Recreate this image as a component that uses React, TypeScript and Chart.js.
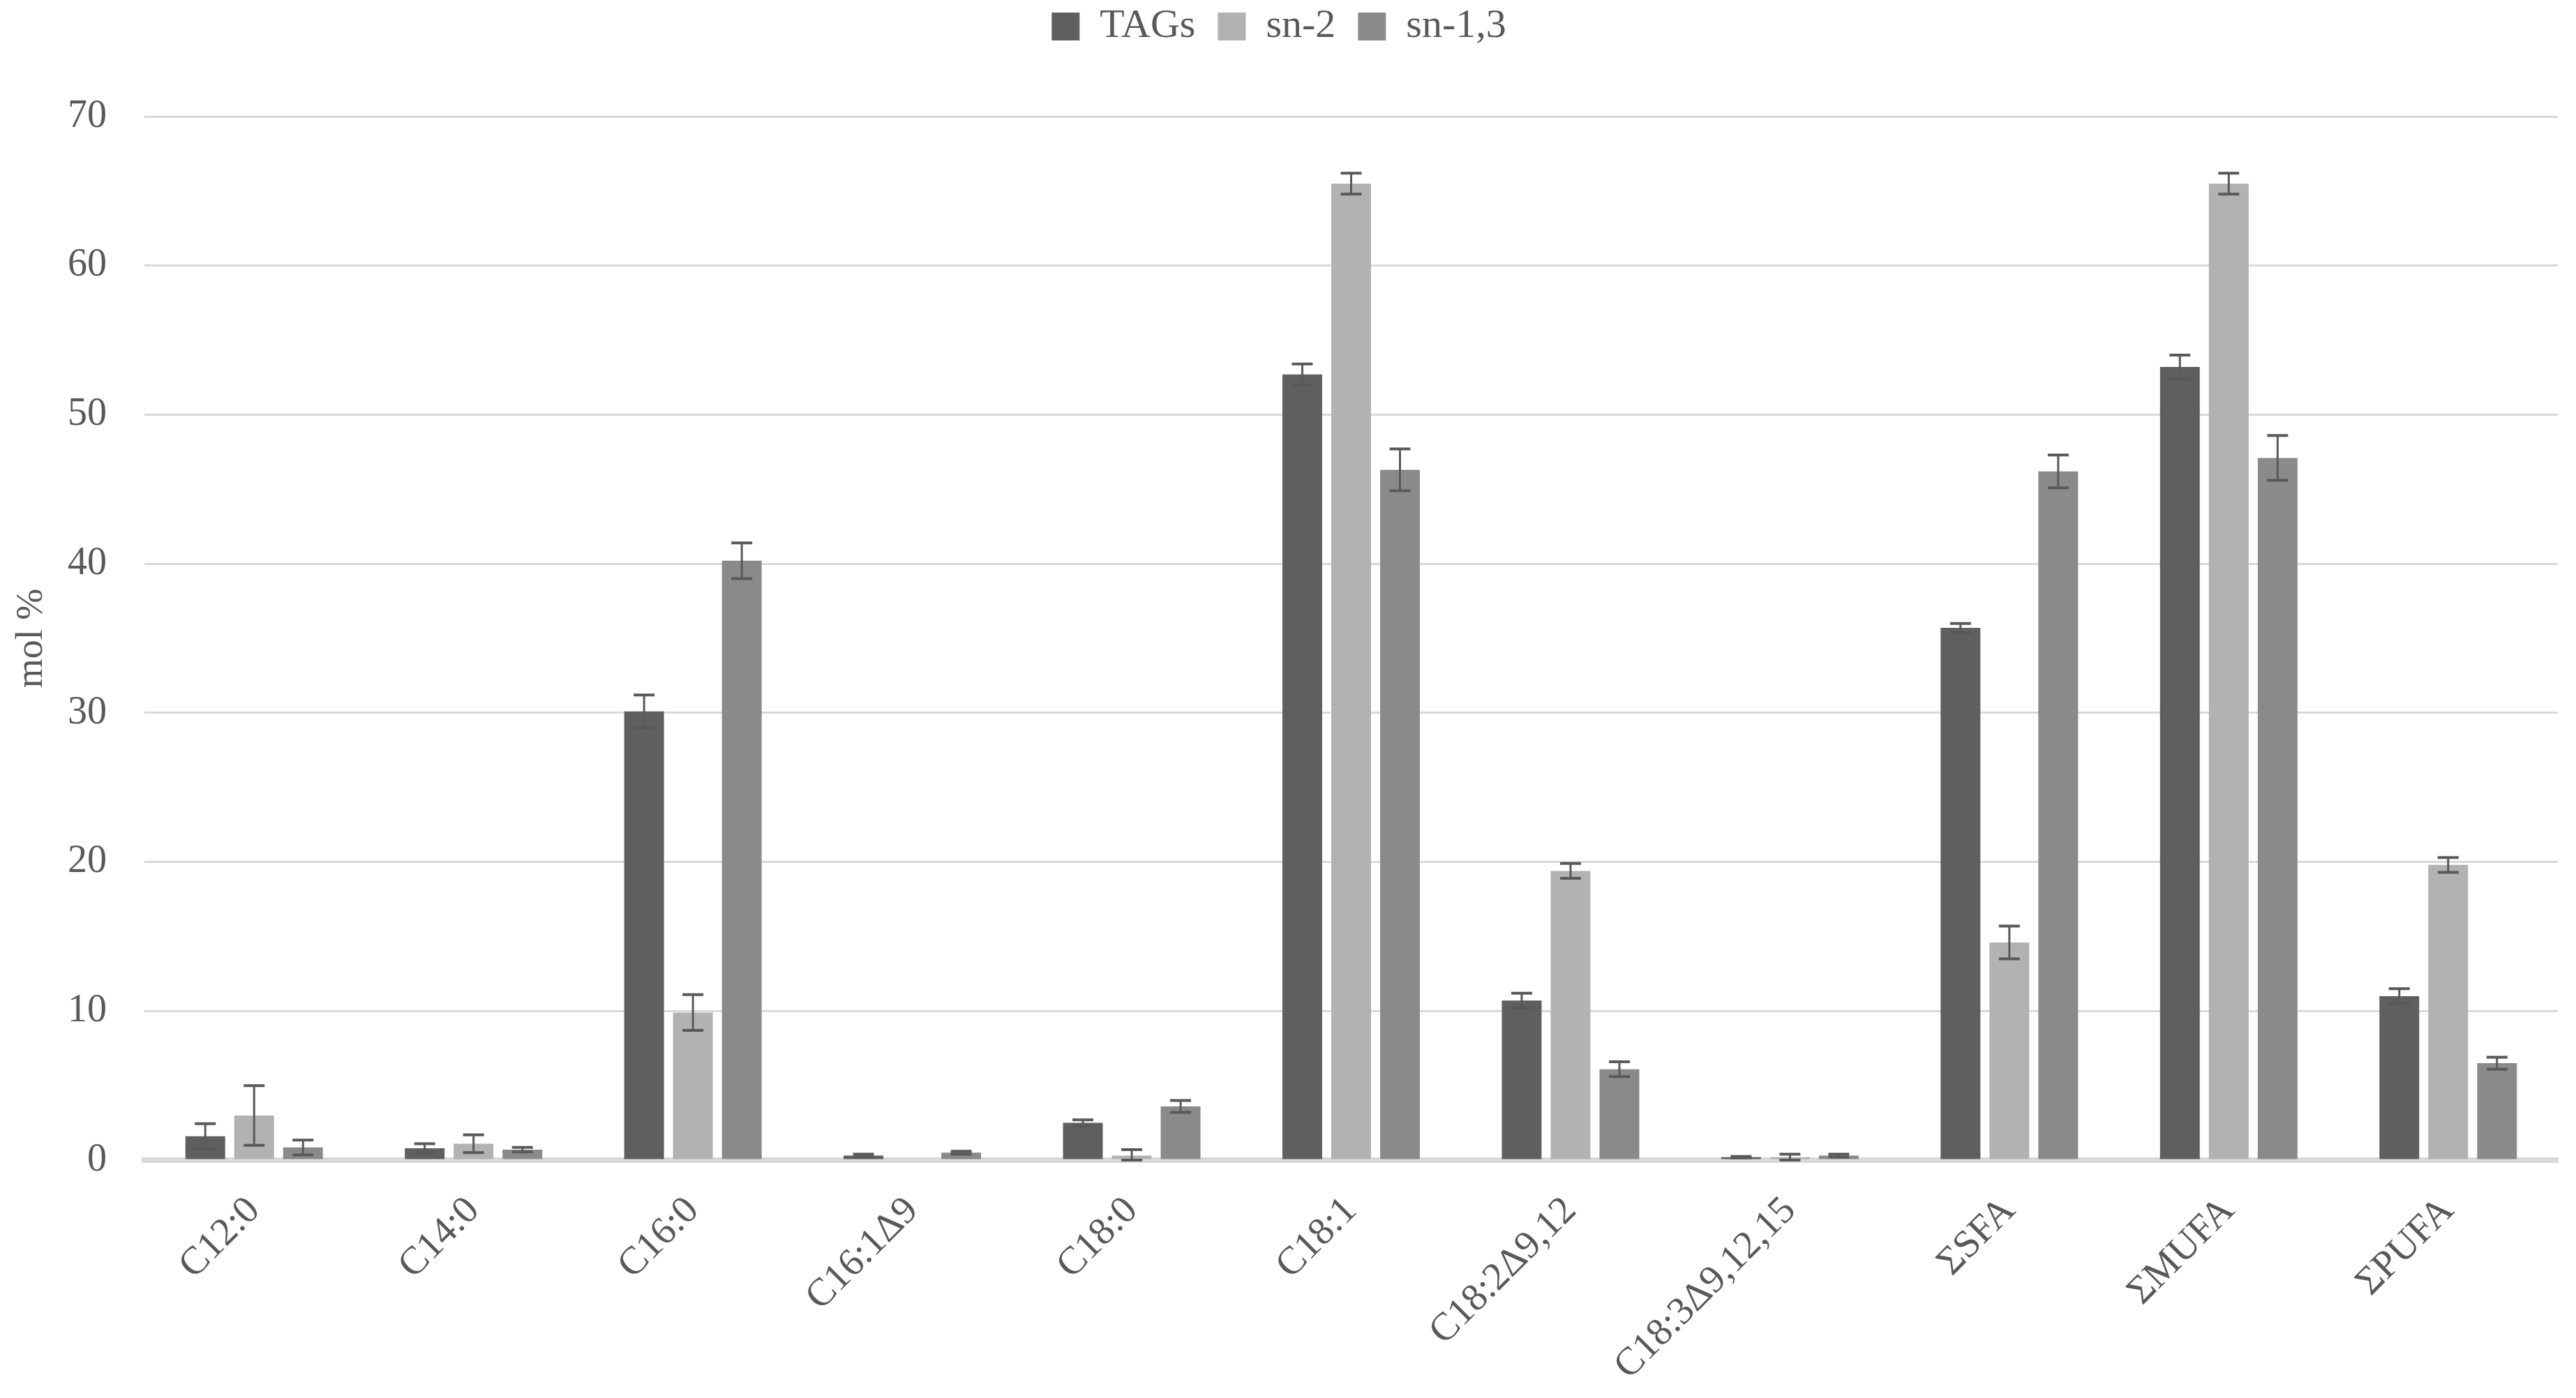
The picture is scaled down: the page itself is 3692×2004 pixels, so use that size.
import React, { useEffect, useRef } from "react";
import { Chart, registerables } from "chart.js";

Chart.register(...registerables);

const categories = [
  "C12:0",
  "C14:0",
  "C16:0",
  "C16:1Δ9",
  "C18:0",
  "C18:1",
  "C18:2Δ9,12",
  "C18:3Δ9,12,15",
  "ΣSFA",
  "ΣMUFA",
  "ΣPUFA",
];

const seriesNames = ["TAGs", "sn-2", "sn-1,3"];

const tagsValues = [1.6, 0.8, 30.1, 0.3, 2.5, 52.7, 10.7, 0.2, 35.7, 53.2, 11.0];
const tagsErrors = [0.85, 0.3, 1.1, 0.1, 0.2, 0.7, 0.5, 0.05, 0.3, 0.8, 0.5];

const sn2Values = [3.0, 1.1, 9.9, 0, 0.3, 65.5, 19.4, 0.2, 14.6, 65.5, 19.8];
const sn2Errors = [2.0, 0.6, 1.2, 0, 0.4, 0.7, 0.5, 0.2, 1.1, 0.7, 0.5];

const sn13Values = [0.85, 0.7, 40.2, 0.5, 3.6, 46.3, 6.1, 0.3, 46.2, 47.1, 6.5];
const sn13Errors = [0.5, 0.15, 1.2, 0.1, 0.4, 1.4, 0.5, 0.1, 1.1, 1.5, 0.4];

const seriesColors = ["#5f5f5f", "#b2b2b2", "#8a8a8a"];

const yTicks = [0, 10, 20, 30, 40, 50, 60, 70];
const yTitle = "mol %";

const FONT = "'Liberation Serif', 'Times New Roman', serif";
const TEXT_COLOR = "#595959";

const LEGEND_BLOCK = 190;

const legendSpacer = {
  id: "legendSpacer",
  beforeLayout(chart: any) {
    const lg = chart.legend;
    if (lg && !lg.__patched) {
      const orig = lg.fit;
      lg.fit = function (this: any) {
        orig.call(this);
        this.height = LEGEND_BLOCK;
      };
      lg.__patched = true;
    }
  },
};

const errorBarPlugin = {
  id: "errorBars",
  afterDatasetsDraw(chart: any) {
    const ctx = chart.ctx;
    const yScale = chart.scales.y;
    ctx.save();
    chart.data.datasets.forEach((ds: any, di: number) => {
      const meta = chart.getDatasetMeta(di);
      const errs: number[] = ds.errors || [];
      meta.data.forEach((bar: any, i: number) => {
        const v = ds.data[i];
        const e = errs[i];
        if (!e) return;
        const yTop = yScale.getPixelForValue(v + e);
        const yBot = yScale.getPixelForValue(Math.max(v - e, 0));
        const x = bar.x;
        const cap = 15;
        ctx.strokeStyle = "#595959";
        ctx.lineWidth = 3;
        ctx.beginPath();
        ctx.moveTo(x, yTop);
        ctx.lineTo(x, yBot);
        ctx.stroke();
        ctx.lineWidth = 4;
        ctx.beginPath();
        ctx.moveTo(x - cap, yTop);
        ctx.lineTo(x + cap, yTop);
        ctx.moveTo(x - cap, yBot);
        ctx.lineTo(x + cap, yBot);
        ctx.stroke();
      });
    });
    ctx.restore();
  },
};

export default function App() {
  const canvasRef = useRef<HTMLCanvasElement | null>(null);

  useEffect(() => {
    if (!canvasRef.current) return;
    const valueSets = [tagsValues, sn2Values, sn13Values];
    const errorSets = [tagsErrors, sn2Errors, sn13Errors];
    const chart = new Chart(canvasRef.current, {
      type: "bar",
      data: {
        labels: categories,
        datasets: seriesNames.map((name, k) => ({
          label: name,
          data: valueSets[k],
          errors: errorSets[k],
          backgroundColor: seriesColors[k],
          borderWidth: 0,
          categoryPercentage: 0.668,
          barPercentage: 0.814,
        })) as any,
      },
      options: {
        animation: false,
        responsive: false,
        devicePixelRatio: 1,
        layout: { padding: { top: -23, right: 26, bottom: 0, left: 0 } },
        plugins: {
          legend: {
            display: true,
            position: "top",
            labels: {
              boxWidth: 40,
              boxHeight: 40,
              padding: 32,
              color: TEXT_COLOR,
              font: { family: FONT, size: 58 },
            },
          },
          title: { display: false },
          tooltip: { enabled: false },
        },
        scales: {
          x: {
            z: 1,
            grid: { display: false, drawTicks: false },
            border: { display: true, color: "#d9d9d9", width: 8 },
            ticks: {
              color: TEXT_COLOR,
              font: { family: FONT, size: 56 },
              minRotation: 45,
              maxRotation: 45,
              autoSkip: false,
              padding: 40,
            },
            afterFit(scale: any) {
              scale.height = 341;
            },
          },
          y: {
            min: 0,
            max: 70,
            afterBuildTicks(scale: any) {
              scale.ticks = yTicks.map((v) => ({ value: v }));
            },
            grid: { color: "#d9d9d9", lineWidth: 3, drawTicks: false },
            border: { display: false },
            ticks: {
              color: TEXT_COLOR,
              font: { family: FONT, size: 56 },
              padding: 54,
            },
            title: {
              display: true,
              text: yTitle,
              color: TEXT_COLOR,
              font: { family: FONT, size: 54 },
              padding: { top: 13, bottom: 0 },
            },
            afterFit(scale: any) {
              scale.width = 207;
            },
          },
        },
      },
      plugins: [legendSpacer, errorBarPlugin],
    });
    return () => chart.destroy();
  }, []);

  return (
    <div style={{ position: "absolute", left: 0, top: 0, width: 3692, height: 2004, background: "#ffffff" }}>
      <canvas ref={canvasRef} width={3692} height={2004} style={{ width: 3692, height: 2004, display: "block" }} />
    </div>
  );
}
